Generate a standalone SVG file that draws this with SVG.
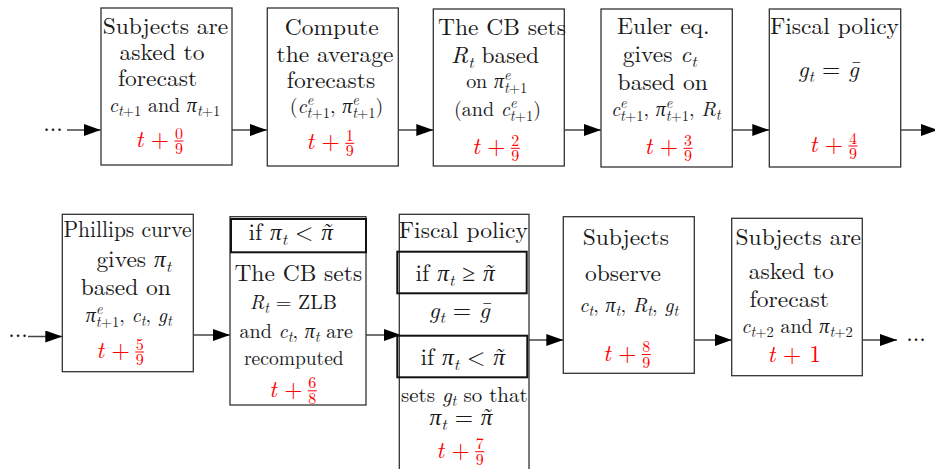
<svg xmlns="http://www.w3.org/2000/svg" width="935" height="469" viewBox="0 0 935 469" font-family="Latin Modern Roman, Liberation Serif, serif">
<defs>
<marker id="ah" markerUnits="userSpaceOnUse" markerWidth="18" markerHeight="12" refX="17" refY="6" orient="auto"><path d="M0,0 L17,6 L0,12 z" fill="#000"/></marker>
<style>
.box{fill:#fff;stroke:#333;stroke-width:1.3}
.ib{fill:none;stroke:#111;stroke-width:2}
text{fill:#1a1a1a;text-anchor:middle}
.L{font-size:23.5px}
.S{font-size:20px}
.i{font-style:italic}
.sb{font-size:14.5px}
.sl{font-size:16.5px}
.r{fill:#f00}
.fr{font-size:16px}
.conn line{stroke:#444;stroke-width:1.3;marker-end:url(#ah)}
.bar{stroke:#f00;stroke-width:1}
</style>
</defs>
<rect width="935" height="469" fill="#fff"/>

<g id="connectors" class="conn">
<line x1="67" y1="130" x2="100.7" y2="130"/>
<line x1="232" y1="130" x2="267" y2="130"/>
<line x1="398.3" y1="130" x2="433.3" y2="130"/>
<line x1="564.3" y1="130" x2="601" y2="130"/>
<line x1="732.3" y1="130" x2="769.3" y2="130"/>
<line x1="900.7" y1="130" x2="938" y2="130"/>
<line x1="28" y1="336.5" x2="62.3" y2="336.5"/>
<line x1="193.3" y1="335" x2="230" y2="335"/>
<line x1="366" y1="335" x2="401" y2="335"/>
<line x1="529" y1="340" x2="563.3" y2="340"/>
<line x1="694.3" y1="340" x2="731.7" y2="340"/>
<line x1="862.3" y1="340" x2="897" y2="340"/>
</g>
<g id="dots">
<text class="L" x="53" y="131">...</text>
<text class="L" x="18" y="337">...</text>
<text class="L" x="916" y="341">...</text>
</g>

<g id="n1">
<rect class="box" x="101" y="8" width="131" height="157"/>
<text class="L" x="165.5" y="34">Subjects are</text>
<text class="L" x="162" y="60">asked to</text>
<text class="L" x="157.5" y="86">forecast</text>
<text class="S" x="164.5" y="112"><tspan class="i">c</tspan><tspan class="sb" dy="4"><tspan class="i">t</tspan>+1</tspan><tspan dy="-4"> and </tspan><tspan class="i">π</tspan><tspan class="sb" dy="4"><tspan class="i">t</tspan>+1</tspan></text>
<text class="L r i" x="139.5" y="147">t</text><text class="L r" x="160" y="147">+</text>
<text class="fr r" x="179" y="138.5">0</text><text class="fr r" x="179" y="154">9</text>
<line class="bar" x1="174.5" y1="141" x2="183.5" y2="141"/>
</g>

<g id="n2">
<rect class="box" x="267.3" y="8" width="131" height="158"/>
<text class="L" x="331.7" y="35">Compute</text>
<text class="L" x="335" y="61.5">the average</text>
<text class="L" x="331" y="88">forecasts</text>
<text class="S" x="336.5" y="113">(<tspan class="i">c</tspan><tspan class="sb i" dy="-8.5">e</tspan><tspan class="sb" dx="-6.7" dy="13.5"><tspan class="i">t</tspan>+1</tspan><tspan dy="-5">, </tspan><tspan class="i">π</tspan><tspan class="sb i" dy="-8.5">e</tspan><tspan class="sb" dx="-6.7" dy="13.5"><tspan class="i">t</tspan>+1</tspan><tspan dy="-5">)</tspan></text>
<text class="L r i" x="310.2" y="149.3">t</text><text class="L r" x="330.7" y="149.3">+</text>
<text class="fr r" x="349.7" y="140.8">1</text><text class="fr r" x="349.7" y="156.3">9</text>
<line class="bar" x1="345.2" y1="143.3" x2="354.2" y2="143.3"/>
</g>

<g id="n3">
<rect class="box" x="433.3" y="9" width="131" height="157"/>
<text class="L" x="502" y="35">The CB sets</text>
<text class="L" x="495" y="63"><tspan class="i">R</tspan><tspan class="sl" dy="5"><tspan class="i">t</tspan></tspan><tspan dy="-5"> based</tspan></text>
<text class="S" x="496.7" y="88">on <tspan class="i">π</tspan><tspan class="sb i" dy="-8.5">e</tspan><tspan class="sb" dx="-6.7" dy="13.5"><tspan class="i">t</tspan>+1</tspan></text>
<text class="S" x="497.5" y="116">(and <tspan class="i">c</tspan><tspan class="sb i" dy="-8.5">e</tspan><tspan class="sb" dx="-6.7" dy="13.5"><tspan class="i">t</tspan>+1</tspan><tspan dy="-5">)</tspan></text>
<text class="L r i" x="475.8" y="154.3">t</text><text class="L r" x="496.3" y="154.3">+</text>
<text class="fr r" x="515.3" y="145.8">2</text><text class="fr r" x="515.3" y="161.3">9</text>
<line class="bar" x1="510.8" y1="148.3" x2="519.8" y2="148.3"/>
</g>

<g id="n4">
<rect class="box" x="601" y="9" width="131.3" height="158"/>
<text class="L" x="663.3" y="33.5">Euler eq.</text>
<text class="L" x="659.7" y="61.5">gives <tspan class="i">c</tspan><tspan class="sl" dy="5"><tspan class="i">t</tspan></tspan></text>
<text class="L" x="662.7" y="90">based on</text>
<text class="S" x="665.8" y="116"><tspan class="i">c</tspan><tspan class="sb i" dy="-8.5">e</tspan><tspan class="sb" dx="-6.7" dy="13.5"><tspan class="i">t</tspan>+1</tspan><tspan dy="-5">, </tspan><tspan class="i">π</tspan><tspan class="sb i" dy="-8.5">e</tspan><tspan class="sb" dx="-6.7" dy="13.5"><tspan class="i">t</tspan>+1</tspan><tspan dy="-5">, </tspan><tspan class="i">R</tspan><tspan class="sb i" dy="4">t</tspan></text>
<text class="L r i" x="648.5" y="154.3">t</text><text class="L r" x="669" y="154.3">+</text>
<text class="fr r" x="688" y="145.8">3</text><text class="fr r" x="688" y="161.3">9</text>
<line class="bar" x1="683.5" y1="148.3" x2="692.5" y2="148.3"/>
</g>

<g id="n5">
<rect class="box" x="769.3" y="9" width="131.4" height="158"/>
<text class="L" x="834.5" y="33.5">Fiscal policy</text>
<text class="L" x="828.3" y="77"><tspan class="i">g</tspan><tspan class="sl" dy="5"><tspan class="i">t</tspan></tspan><tspan dy="-5"> = </tspan><tspan class="i">ḡ</tspan></text>
<text class="L r i" x="813.5" y="152">t</text><text class="L r" x="834" y="152">+</text>
<text class="fr r" x="853" y="143.5">4</text><text class="fr r" x="853" y="159">9</text>
<line class="bar" x1="848.5" y1="146" x2="857.5" y2="146"/>
</g>

<g id="n6">
<rect class="box" x="62.3" y="214.3" width="131" height="157.4"/>
<text class="L" x="127.5" y="237" textLength="128" lengthAdjust="spacingAndGlyphs">Phillips curve</text>
<text class="L" x="133.8" y="266.5">gives <tspan class="i">π</tspan><tspan class="sl" dy="5"><tspan class="i">t</tspan></tspan></text>
<text class="L" x="125.8" y="295">based on</text>
<text class="S" x="128.8" y="322"><tspan class="i">π</tspan><tspan class="sb i" dy="-8.5">e</tspan><tspan class="sb" dx="-6.7" dy="13.5"><tspan class="i">t</tspan>+1</tspan><tspan dy="-5">, </tspan><tspan class="i">c</tspan><tspan class="sb i" dy="4">t</tspan><tspan dy="-4">, </tspan><tspan class="i">g</tspan><tspan class="sb i" dy="4">t</tspan></text>
<text class="L r i" x="100.2" y="358">t</text><text class="L r" x="120.7" y="358">+</text>
<text class="fr r" x="139.7" y="349.5">5</text><text class="fr r" x="139.7" y="365">9</text>
<line class="bar" x1="135.2" y1="352" x2="144.2" y2="352"/>
</g>

<g id="n7">
<rect class="box" x="230" y="216.7" width="136" height="188.3"/>
<rect class="ib" x="231" y="219" width="135" height="33.3"/>
<text class="L" x="291.3" y="240">if <tspan class="i">π</tspan><tspan class="sl" dy="5"><tspan class="i">t</tspan></tspan><tspan dy="-5"> &lt; </tspan><tspan class="i">π</tspan><tspan dx="-10.5">˜</tspan></text>
<text class="L" x="298.3" y="281">The CB sets</text>
<text class="S" x="293.3" y="309"><tspan class="i">R</tspan><tspan class="sb i" dy="4">t</tspan><tspan dy="-4"> = ZLB</tspan></text>
<text class="S" x="296.3" y="337.7">and <tspan class="i">c</tspan><tspan class="sb i" dy="4">t</tspan><tspan dy="-4">, </tspan><tspan class="i">π</tspan><tspan class="sb i" dy="4">t</tspan><tspan dy="-4"> are</tspan></text>
<text class="S" x="293.8" y="365" style="font-size:19.5px">recomputed</text>
<text class="L r i" x="272.8" y="396.8">t</text><text class="L r" x="293.3" y="396.8">+</text>
<text class="fr r" x="312.3" y="388.3">6</text><text class="fr r" x="312.3" y="403.8">8</text>
<line class="bar" x1="307.8" y1="390.8" x2="316.8" y2="390.8"/>
</g>

<g id="n8">
<rect class="box" x="399.3" y="214.3" width="129.7" height="270"/>
<text class="L" x="463.3" y="238.3">Fiscal policy</text>
<rect class="ib" x="397.3" y="251.7" width="129.4" height="41.6"/>
<text class="L" x="455.8" y="281">if <tspan class="i">π</tspan><tspan class="sl" dy="5"><tspan class="i">t</tspan></tspan><tspan dy="-5"> ≥ </tspan><tspan class="i">π</tspan><tspan dx="-10.5">˜</tspan></text>
<text class="L" x="459.2" y="318"><tspan class="i">g</tspan><tspan class="sl" dy="5"><tspan class="i">t</tspan></tspan><tspan dy="-5"> = </tspan><tspan class="i">ḡ</tspan></text>
<rect class="ib" x="397.3" y="335.7" width="130" height="41.6"/>
<text class="L" x="463.3" y="365">if <tspan class="i">π</tspan><tspan class="sl" dy="5"><tspan class="i">t</tspan></tspan><tspan dy="-5"> &lt; </tspan><tspan class="i">π</tspan><tspan dx="-10.5">˜</tspan></text>
<text class="S" x="464.3" y="401.5" style="font-size:21px">sets <tspan class="i">g</tspan><tspan class="sb i" dy="4">t</tspan><tspan dy="-4"> so that</tspan></text>
<text class="L" x="461.7" y="425"><tspan class="i">π</tspan><tspan class="sl" dy="5"><tspan class="i">t</tspan></tspan><tspan dy="-5"> = </tspan><tspan class="i">π</tspan><tspan dx="-10.5">˜</tspan></text>
<text class="L r i" x="440.2" y="457.7">t</text><text class="L r" x="460.7" y="457.7">+</text>
<text class="fr r" x="479.7" y="449.2">7</text><text class="fr r" x="479.7" y="464.7">9</text>
<line class="bar" x1="475.2" y1="451.7" x2="484.2" y2="451.7"/>
</g>

<g id="n9">
<rect class="box" x="563.3" y="216.7" width="131" height="156.6"/>
<text class="L" x="625.8" y="245">Subjects</text>
<text class="L" x="623" y="281">observe</text>
<text class="S" x="628.8" y="311.5"><tspan class="i">c</tspan><tspan class="sb i" dy="4">t</tspan><tspan dy="-4">, </tspan><tspan class="i">π</tspan><tspan class="sb i" dy="4">t</tspan><tspan dy="-4">, </tspan><tspan class="i">R</tspan><tspan class="sb i" dy="4">t</tspan><tspan dy="-4">, </tspan><tspan class="i">g</tspan><tspan class="sb i" dy="4">t</tspan></text>
<text class="L r i" x="606.8" y="360.5">t</text><text class="L r" x="627.3" y="360.5">+</text>
<text class="fr r" x="646.3" y="352">8</text><text class="fr r" x="646.3" y="367.5">9</text>
<line class="bar" x1="641.8" y1="354.5" x2="650.8" y2="354.5"/>
</g>

<g id="n10">
<rect class="box" x="731.7" y="218.3" width="130.6" height="157.4"/>
<text class="L" x="798.3" y="245">Subjects are</text>
<text class="L" x="791.3" y="279">asked to</text>
<text class="L" x="789.2" y="306.5">forecast</text>
<text class="S" x="797" y="333"><tspan class="i">c</tspan><tspan class="sb" dy="4"><tspan class="i">t</tspan>+2</tspan><tspan dy="-4"> and </tspan><tspan class="i">π</tspan><tspan class="sb" dy="4"><tspan class="i">t</tspan>+2</tspan></text>
<text class="L r" x="794.2" y="362"><tspan class="i">t</tspan> + 1</text>
</g>
</svg>
